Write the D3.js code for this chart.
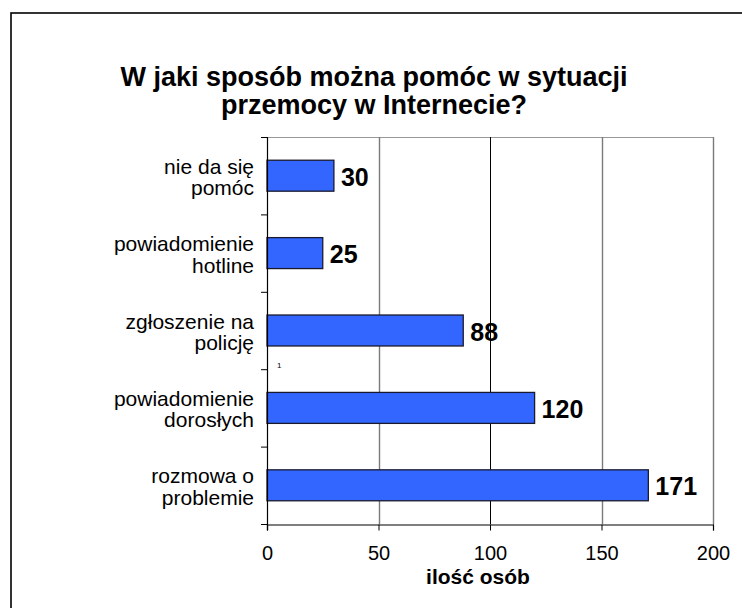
<!DOCTYPE html>
<html lang="pl">
<head>
<meta charset="UTF-8">
<title>W jaki sposób można pomóc w sytuacji przemocy w Internecie?</title>
<script src="https://d3js.org/d3.v7.min.js"></script>
<style>
    body { margin: 0; background: #fff; }
    svg text { font-family: "Liberation Sans", Arial, sans-serif; fill: #000; }
</style>
</head>
<body>
<div id="chart"></div>
<script>
// data (top to bottom)
const categories = [
    ["nie da się", "pomóc"],
    ["powiadomienie", "hotline"],
    ["zgłoszenie na", "policję"],
    ["powiadomienie", "dorosłych"],
    ["rozmowa o", "problemie"]
];
const values = [30, 25, 88, 120, 171];
const xTicks = [0, 50, 100, 150, 200];
const titleLines = ["W jaki sposób można pomóc w sytuacji", "przemocy w Internecie?"];
const xTitle = "ilość osób";

const width = 742, height = 608;
const plot = { left: 267, right: 713, top: 137, bottom: 524 };

const svg = d3.select("#chart").append("svg")
    .attr("width", width)
    .attr("height", height);

svg.append("rect").attr("width", width).attr("height", height).attr("fill", "#fff");

// outer frame (runs off the right/bottom edge)
svg.append("rect")
    .attr("x", 11).attr("y", 13)
    .attr("width", 800).attr("height", 700)
    .attr("fill", "none").attr("stroke", "#000").attr("stroke-width", 1.6);

// title
svg.append("g").selectAll("text")
    .data(titleLines)
    .enter().append("text")
    .attr("x", 374)
    .attr("y", (d, i) => 86 + i * 28)
    .attr("text-anchor", "middle")
    .attr("font-size", 27)
    .attr("font-weight", "bold")
    .text(d => d);

const x = d3.scaleLinear().domain([0, 200]).range([plot.left, plot.right]);
const y = d3.scaleBand()
    .domain(d3.range(categories.length))
    .range([plot.top, plot.bottom])
    .paddingInner(0.6).paddingOuter(0.3);
const band = d3.scaleBand().domain(d3.range(categories.length)).range([plot.top, plot.bottom]);

// plot top border
svg.append("line")
    .attr("x1", plot.left).attr("x2", plot.right)
    .attr("y1", plot.top + 0.5).attr("y2", plot.top + 0.5)
    .attr("stroke", "#999").attr("stroke-width", 1.2);

// vertical gridlines
svg.append("g").selectAll("line")
    .data(xTicks.slice(1))
    .enter().append("line")
    .attr("x1", d => Math.round(x(d)) + 0.5).attr("x2", d => Math.round(x(d)) + 0.5)
    .attr("y1", plot.top).attr("y2", plot.bottom)
    .attr("stroke", d => d === 100 ? "#000" : "#7a7a7a")
    .attr("stroke-width", d => d === 100 ? 1 : 1.4);

// bars
svg.append("g").selectAll("rect")
    .data(values)
    .enter().append("rect")
    .attr("x", x(0))
    .attr("y", (d, i) => y(i))
    .attr("width", d => x(d) - x(0))
    .attr("height", y.bandwidth())
    .attr("fill", "#3366ff")
    .attr("stroke", "#1a1a2e")
    .attr("stroke-width", 1.3);

// value labels
svg.append("g").selectAll("text")
    .data(values)
    .enter().append("text")
    .attr("x", d => x(d) + 7)
    .attr("y", (d, i) => band(i) + band.bandwidth() / 2 + 10)
    .attr("font-size", 25)
    .attr("font-weight", "bold")
    .text(d => d);

// x axis
const xAxis = svg.append("g")
    .attr("transform", `translate(0,${plot.bottom + 0.5})`)
    .call(d3.axisBottom(x).tickValues(xTicks).tickSize(6).tickPadding(15));
xAxis.select(".domain").attr("stroke", "#000").attr("stroke-width", 1.2);
xAxis.selectAll(".tick line").attr("stroke", "#000");
xAxis.selectAll(".tick text")
    .attr("font-family", "Liberation Sans, Arial, sans-serif")
    .attr("font-size", 20);

// y axis with ticks between categories
svg.append("line")
    .attr("x1", plot.left + 0.5).attr("x2", plot.left + 0.5)
    .attr("y1", plot.top).attr("y2", plot.bottom + 6)
    .attr("stroke", "#000").attr("stroke-width", 1.2);
const yTickPos = d3.range(categories.length + 1).map(i => i < categories.length ? band(i) : plot.bottom);
svg.append("g").selectAll("line")
    .data(yTickPos)
    .enter().append("line")
    .attr("x1", plot.left - 6).attr("x2", plot.left)
    .attr("y1", d => d + 0.5).attr("y2", d => d + 0.5)
    .attr("stroke", "#000");

// category labels
const catG = svg.append("g").selectAll("text")
    .data(categories)
    .enter().append("text")
    .attr("text-anchor", "end")
    .attr("font-size", 21);
catG.selectAll("tspan")
    .data((d, i) => d.map((t, j) => ({ t, j, i })))
    .enter().append("tspan")
    .attr("x", 254)
    .attr("y", d => band(d.i) + band.bandwidth() / 2 - 2 + d.j * 21.5)
    .text(d => d.t);

// small stray marker seen in the picture
svg.append("text")
    .attr("x", 277).attr("y", 368)
    .attr("font-size", 8)
    .text("1");

// axis title
svg.append("text")
    .attr("x", 478).attr("y", 584)
    .attr("text-anchor", "middle")
    .attr("font-size", 21)
    .attr("font-weight", "bold")
    .text(xTitle);
</script>
</body>
</html>
